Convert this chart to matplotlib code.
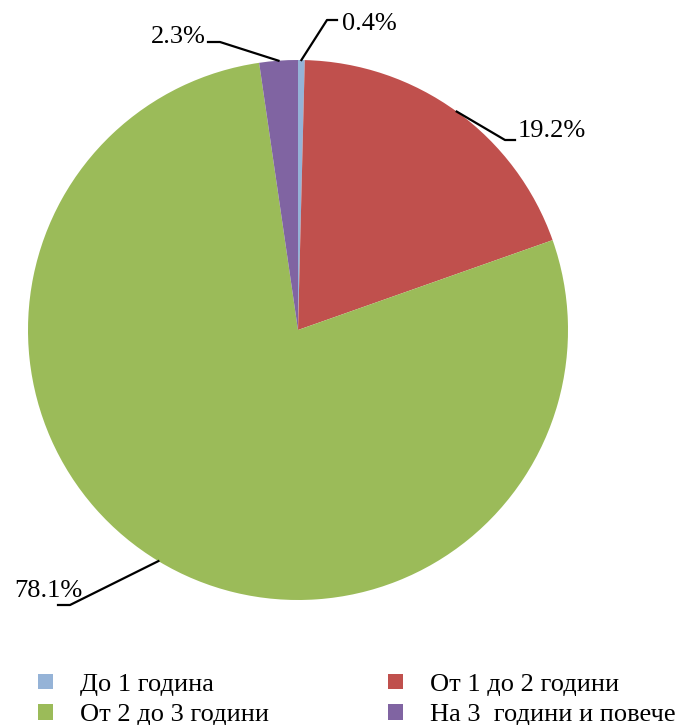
import numpy as np
import matplotlib.pyplot as plt
from matplotlib.patches import Patch

plt.rcParams['font.family'] = ['Liberation Serif', 'DejaVu Serif']

# data
categories = ['До 1 година', 'От 1 до 2 години', 'От 2 до 3 години', 'На 3  години и повече']
shares = [0.4, 19.2, 78.1, 2.3]
colors = ['#95B3D7', '#C0504D', '#9BBB59', '#8064A2']

W, H = 681, 725
fig = plt.figure(figsize=(W / 100, H / 100), dpi=100)
ax = fig.add_axes([0, 0, 1, 1])

cx, cy, r = 298, 725 - 330, 270
wedges, _ = ax.pie(shares, colors=colors, startangle=90, counterclock=False,
                   center=(cx, cy), radius=r, frame=True,
                   wedgeprops=dict(linewidth=0))
ax.set_xlim(0, W)
ax.set_ylim(0, H)
ax.set_aspect('equal')
ax.axis('off')

# leader lines: (elbow point, end point, text position, alignment)
layout = [
    ((327, 705), (337, 705), (342, 701), 'left'),
    ((505, 585), (515, 585), (518, 594), 'left'),
    ((70, 120), (58, 120), (82, 134), 'right'),
    ((220, 683), (208, 683), (206, 688), 'right'),
]
for w, v, (elbow, end, tpos, ha) in zip(wedges, shares, layout):
    ang = np.deg2rad((w.theta1 + w.theta2) / 2)
    px, py = cx + r * np.cos(ang), cy + r * np.sin(ang)
    ax.plot([px, elbow[0], end[0]], [py, elbow[1], end[1]], color='black', lw=1.6)
    ax.text(tpos[0], tpos[1], f'{v}%', ha=ha, va='center', fontsize=19)

handles = [Patch(facecolor=c, edgecolor='none') for c in colors]
order = [0, 2, 1, 3]
fig.legend([handles[i] for i in order], [categories[i] for i in order],
           ncol=2, loc='lower left', bbox_to_anchor=(0.052, -0.005),
           borderaxespad=0, borderpad=0.1,
           frameon=False, fontsize=19, handlelength=0.55, handleheight=0.55,
           handletextpad=1.05, columnspacing=4.5, labelspacing=0.3)

fig.savefig('out.png', dpi=100)
plt.close()
